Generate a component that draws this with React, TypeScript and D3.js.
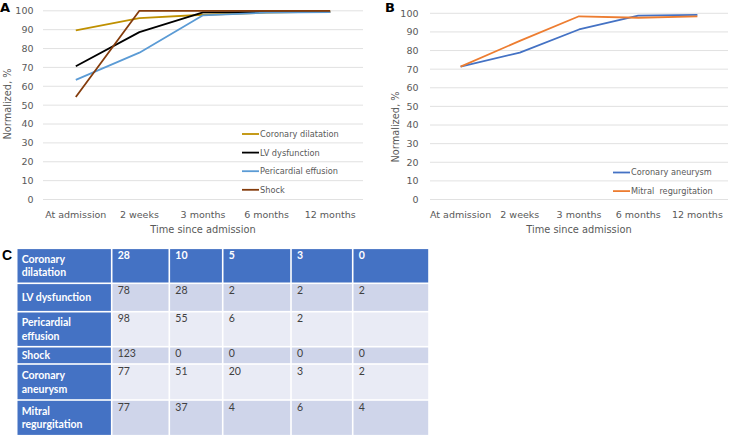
import React from 'react';
import * as d3 from 'd3';

// time points shared by both panels
const timePoints = ['At admission', '2 weeks', '3 months', '6 months', '12 months'];
const yTicks = [0, 10, 20, 30, 40, 50, 60, 70, 80, 90, 100];

// panel A series (normalized, %)
const coronaryDilatation = [89.6, 96.1, 97.9, 99.0, 99.6];
const lvDysfunction = [70.6, 88.7, 99.2, 99.3, 99.3];
const pericardialEffusion = [63.4, 77.8, 97.6, 99.0, 99.3];
const shock = [54.3, 100, 100, 100, 100];

// panel B series
const coronaryAneurysm = [71.4, 78.9, 91.3, 98.8, 99.2];
const mitralRegurgitation = [71.4, 85.2, 98.4, 97.6, 98.3];

// table C
const tableRows = [
    ['Coronary', 'dilatation'],
    ['LV dysfunction'],
    ['Pericardial', 'effusion'],
    ['Shock'],
    ['Coronary', 'aneurysm'],
    ['Mitral', 'regurgitation'],
];
const tableValues = [
    ['28', '10', '5', '3', '0'],
    ['78', '28', '2', '2', '2'],
    ['98', '55', '6', '2', ''],
    ['123', '0', '0', '0', '0'],
    ['77', '51', '20', '3', '2'],
    ['77', '37', '4', '6', '4'],
];

const TICK_FONT = '"DejaVu Sans", Verdana, sans-serif';
const TABLE_FONT = 'Lato, "Open Sans", sans-serif';
const GRID = '#D9D9D9';
const TXT = '#595959';

interface Series { name: string; color: string; values: number[] }

const seriesA: Series[] = [
    { name: 'Coronary dilatation', color: '#BF9000', values: coronaryDilatation },
    { name: 'LV dysfunction', color: '#000000', values: lvDysfunction },
    { name: 'Pericardial effusion', color: '#5B9BD5', values: pericardialEffusion },
    { name: 'Shock', color: '#843C0C', values: shock },
];
const seriesB: Series[] = [
    { name: 'Coronary aneurysm', color: '#4472C4', values: coronaryAneurysm },
    { name: 'Mitral  regurgitation', color: '#ED7D31', values: mitralRegurgitation },
];

interface PanelProps {
    letter: string;
    letterX: number;
    x0: number; x1: number;
    yTop: number; yBottom: number;
    tickRight: number;
    yTitleX: number; yTitleY: number;
    series: Series[];
    legendX: number; legendY: number;
}

function LinePanel(p: PanelProps) {
    const x = d3.scaleBand<string>().domain(timePoints).range([p.x0 + 1, p.x1 - 1]);
    const y = d3.scaleLinear().domain([0, 100]).range([p.yBottom, p.yTop]);
    const cx = (c: string) => (x(c) ?? 0) + x.bandwidth() / 2;
    const line = d3.line<number>()
        .x((_, i) => cx(timePoints[i]))
        .y(d => y(d));

    return (
        <g>
            <text x={p.letterX} y={11.5} fontFamily={TICK_FONT} fontWeight="bold" fontSize={13} fill="#000">{p.letter}</text>
            {yTicks.map(t => (
                <g key={t}>
                    <line x1={p.x0} x2={p.x1} y1={y(t)} y2={y(t)} stroke={GRID} strokeWidth={0.8} />
                    <text x={p.tickRight} y={y(t)} dy="0.36em" textAnchor="end" fontFamily={TICK_FONT} fontSize={9.5} fill={TXT}>{t}</text>
                </g>
            ))}
            {timePoints.map(c => (
                <text key={c} x={cx(c)} y={p.yBottom + 15.5} dy="0.36em" textAnchor="middle" fontFamily={TICK_FONT} fontSize={9.5} fill={TXT}>{c}</text>
            ))}
            <text x={(p.x0 + p.x1) / 2} y={p.yBottom + 30} dy="0.36em" textAnchor="middle" fontFamily={TICK_FONT} fontSize={9.8} fill={TXT}>Time since admission</text>
            <text transform={`translate(${p.yTitleX},${p.yTitleY}) rotate(-90)`} textAnchor="middle" dy="0.36em" fontFamily={TICK_FONT} fontSize={9.8} fill={TXT}>Normalized, %</text>
            {p.series.map(s => (
                <path key={s.name} d={line(s.values) ?? ''} fill="none" stroke={s.color} strokeWidth={1.8} strokeLinejoin="round" />
            ))}
            {p.series.map((s, i) => (
                <g key={s.name} transform={`translate(${p.legendX},${p.legendY + i * 18.6})`}>
                    <line x1={0} x2={17} y1={0} y2={0} stroke={s.color} strokeWidth={1.8} />
                    <text x={18} y={0} dy="0.36em" fontFamily={TICK_FONT} fontSize={8.2} fill={TXT} style={{ whiteSpace: 'pre' }}>{s.name}</text>
                </g>
            ))}
        </g>
    );
}

function Table() {
    const colEdges = [16.7, 111.7, 169.3, 222.7, 291, 352.7, 429];
    const rowEdges = [248.3, 283.3, 311.7, 346.7, 364, 400, 435.7];
    const blue = '#4472C4';
    const dark = '#CFD5EA';
    const light = '#E9EBF5';
    const gap = 0.8;
    return (
        <g>
            <text x={2} y={260} fontFamily='"Liberation Sans", Arial, sans-serif' fontWeight="bold" fontSize={14} fill="#000">C</text>
            {tableRows.map((label, r) => {
                const top = rowEdges[r];
                const bot = rowEdges[r + 1];
                const mid = (top + bot) / 2;
                const cellFill = r === 0 ? blue : (r % 2 === 1 ? dark : light);
                return (
                    <g key={r}>
                        {colEdges.slice(0, -1).map((cx0, c) => (
                            <rect key={c} x={cx0 + gap} y={top + gap} width={colEdges[c + 1] - cx0 - 2 * gap} height={bot - top - 2 * gap}
                                fill={c === 0 ? blue : cellFill} />
                        ))}
                        {label.map((l, li) => (
                            <text key={li} x={colEdges[0] + 5} y={mid + (li - (label.length - 1) / 2) * 13.6} dy="0.36em"
                                fontFamily={TABLE_FONT} fontWeight="bold" fontSize={10.5} fill="#fff">{l}</text>
                        ))}
                        {tableValues[r].map((v, c) => (
                            <text key={c} x={colEdges[c + 1] + 6} y={top + 7} dy="0.36em"
                                fontFamily={TABLE_FONT} fontWeight={r === 0 ? 'bold' : 'normal'} fontSize={10.5}
                                fill={r === 0 ? '#fff' : '#404040'}>{v}</text>
                        ))}
                    </g>
                );
            })}
        </g>
    );
}

export default function App() {
    return (
        <svg width={734} height={440} style={{ position: 'absolute', left: 0, top: 0, background: '#fff' }}>
            <LinePanel letter="A" letterX={0} x0={43} x1={363} yTop={10.8} yBottom={199.5} tickRight={33.5}
                yTitleX={7.5} yTitleY={104} series={seriesA} legendX={242} legendY={134} />
            <LinePanel letter="B" letterX={385} x0={430} x1={728} yTop={13.3} yBottom={199.5} tickRight={418.5}
                yTitleX={395} yTitleY={127} series={seriesB} legendX={613} legendY={172.5} />
            <Table />
        </svg>
    );
}
